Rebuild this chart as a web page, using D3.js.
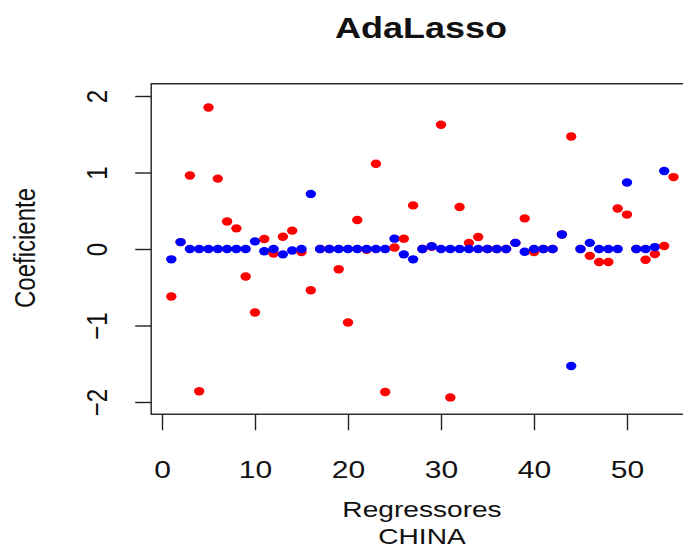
<!DOCTYPE html>
<html>
<head>
<meta charset="utf-8">
<script src="https://cdn.jsdelivr.net/npm/d3@7"></script>
<style>
  body { margin: 0; background: #fff; }
  svg { display: block; }
  text { font-family: "Liberation Sans", Arial, sans-serif; fill: #111; }
</style>
</head>
<body>
<svg id="chart" width="683" height="549"></svg>
<script>
// Regressor index 1..55
const regressors = d3.range(1, 56);

// Reference estimates (red)
const redCoef = [
  -0.62, 0.09, 0.96, -1.86, 1.85, 0.92, 0.36, 0.27, -0.36, -0.83,
   0.13, -0.06, 0.16, 0.24, -0.04, -0.54, 0, 0, -0.265, -0.96,
   0.38, -0.01, 1.115, -1.87, 0.02, 0.135, 0.57, 0, 0.03, 1.625,
  -1.94, 0.55, 0.08, 0.157, 0, 0, 0, 0.08, 0.40, -0.04,
   0, 0, 0.19, 1.47, 0, -0.09, -0.17, -0.17, 0.53, 0.45,
   0, -0.14, -0.065, 0.04, 0.94
];

// AdaLasso estimates (blue)
const blueCoef = [
  -0.135, 0.09, 0, 0, 0, 0, 0, 0, 0, 0.10,
  -0.03, 0, -0.07, -0.02, 0, 0.72, 0, 0, 0, 0,
   0, 0, 0, 0, 0.135, -0.07, -0.135, 0, 0.035, 0,
   0, 0, 0, 0, 0, 0, 0, 0.08, -0.035, 0,
   0, 0, 0.19, -1.53, 0, 0.08, 0, 0, 0, 0.87,
   0, 0, 0.025, 1.02, null
];

const xTicks = [0, 10, 20, 30, 40, 50];
const yTicks = [-2, -1, 0, 1, 2];
const titleText = "AdaLasso";
const xLabel = ["Regressores", "CHINA"];
const yLabel = "Coeficiente";

const svg = d3.select("#chart");
const sx = 1.25;          // horizontal glyph stretch
const fs = 24;            // axis font size

const x = d3.scaleLinear().domain([0, 50]).range([162, 627]);
const y = d3.scaleLinear().domain([-2, 2]).range([402, 96]);

// R-style 4% padding of the data ranges
const xr = [1, 55], yr = [-2, 2];
const xlim = [xr[0] - 0.04 * (xr[1] - xr[0]), xr[1] + 0.04 * (xr[1] - xr[0])];
const ylim = [yr[0] - 0.04 * (yr[1] - yr[0]), yr[1] + 0.04 * (yr[1] - yr[0])];

// points, drawn index by index (red then blue)
const pts = regressors.flatMap((r, i) => [
  { r, v: redCoef[i], c: "#ff0000" },
  { r, v: blueCoef[i], c: "#0000ff" }
]).filter(d => d.v !== null);

svg.append("g").selectAll("ellipse").data(pts).join("ellipse")
  .attr("cx", d => x(d.r))
  .attr("cy", d => y(d.v))
  .attr("rx", 5.2)
  .attr("ry", 4.2)
  .attr("fill", d => d.c);

// plot box
svg.append("rect")
  .attr("x", x(xlim[0])).attr("y", y(ylim[1]))
  .attr("width", x(xlim[1]) - x(xlim[0]))
  .attr("height", y(ylim[0]) - y(ylim[1]))
  .attr("fill", "none").attr("stroke", "#222").attr("stroke-width", 1.4);

// x axis
const gx = svg.append("g")
  .attr("transform", `translate(0,${y(ylim[0])})`)
  .call(d3.axisBottom(x).tickValues(xTicks).tickSize(16).tickFormat(d3.format("d")));
gx.select(".domain").remove();
gx.selectAll(".tick line").attr("stroke", "#222").attr("stroke-width", 1.4);
gx.selectAll(".tick text")
  .attr("y", null).attr("dy", null)
  .attr("transform", `translate(0,64) scale(${sx},1)`)
  .attr("font-size", fs)
  .attr("font-family", "Liberation Sans, Arial, sans-serif")
  .attr("fill", "#111");

// y axis with labels parallel to the axis
const gy = svg.append("g")
  .attr("transform", `translate(${x(xlim[0])},0)`)
  .call(d3.axisLeft(y).tickValues(yTicks).tickSize(16).tickFormat(d => d < 0 ? "\u2212" + Math.abs(d) : d));
gy.select(".domain").remove();
gy.selectAll(".tick line").attr("stroke", "#222").attr("stroke-width", 1.4);
gy.selectAll(".tick text")
  .attr("x", null).attr("dy", "0.36em")
  .attr("text-anchor", "middle")
  .attr("transform", `translate(-55,0) scale(${sx},1) rotate(-90)`)
  .attr("font-size", fs)
  .attr("font-family", "Liberation Sans, Arial, sans-serif")
  .attr("fill", "#111");

function label(txt, cx, by, size, weight, rot) {
  const g = svg.append("g")
    .attr("transform", `translate(${cx},${by}) scale(${sx},1)` + (rot ? " rotate(-90)" : ""));
  g.append("text")
    .attr("text-anchor", "middle")
    .attr("font-size", size)
    .attr("font-weight", weight)
    .text(txt);
}

label(titleText, 421, 38, 28.8, "bold", false);
label(xLabel[0], 422, 517, 22.5, "normal", false);
label(xLabel[1], 422, 544, 22.5, "normal", false);
label(yLabel, 35, 248, fs, "normal", true);
</script>
</body>
</html>
